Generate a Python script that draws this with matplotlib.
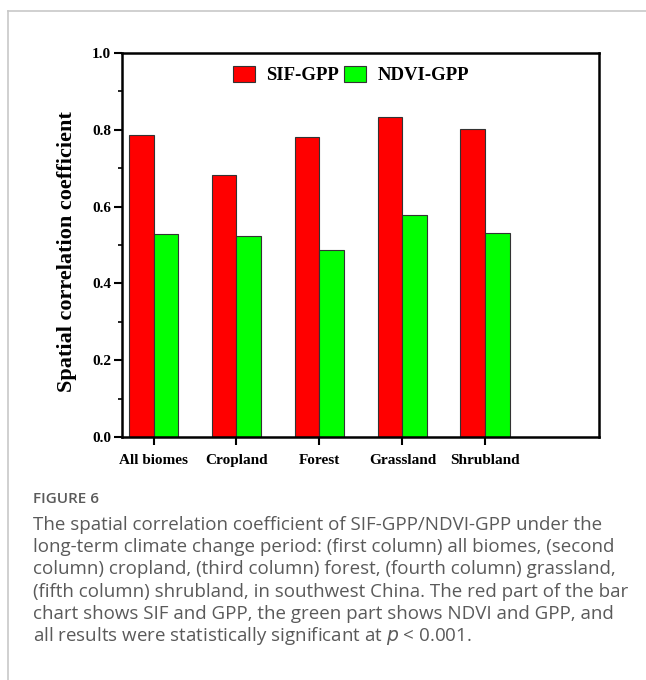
import matplotlib
matplotlib.use("Agg")
import matplotlib.pyplot as plt
from matplotlib.lines import Line2D
import numpy as np

biomes = ["All biomes", "Cropland", "Forest", "Grassland", "Shrubland"]
sif_gpp = [0.787, 0.681, 0.780, 0.833, 0.801]
ndvi_gpp = [0.529, 0.523, 0.486, 0.578, 0.530]
series_names = ["SIF-GPP", "NDVI-GPP"]

caption_title = "FIGURE 6"
caption_lines = [
    "The spatial correlation coefficient of SIF-GPP/NDVI-GPP under the",
    "long-term climate change period: (first column) all biomes, (second",
    "column) cropland, (third column) forest, (fourth column) grassland,",
    "(fifth column) shrubland, in southwest China. The red part of the bar",
    "chart shows SIF and GPP, the green part shows NDVI and GPP, and",
    "all results were statistically significant at $\\it{p}$ < 0.001.",
]

W, H = 646, 680
fig = plt.figure(figsize=(W / 100, H / 100), dpi=100)
fig.patch.set_facecolor("white")

# thin page frame (top and left edges)
fig.add_artist(Line2D([7.5 / W, 1.0], [1 - 10.5 / H, 1 - 10.5 / H],
                      transform=fig.transFigure, color="#c8c8c8", lw=1.2))
fig.add_artist(Line2D([7.5 / W, 7.5 / W], [0.0, 1 - 10.5 / H],
                      transform=fig.transFigure, color="#c8c8c8", lw=1.2))

ax = fig.add_axes([122 / W, 1 - 437 / H, (599 - 122) / W, (437 - 53) / H])

serif = ["Liberation Serif", "DejaVu Serif"]
x = np.arange(len(biomes))
bw = 0.3
ax.bar(x - bw / 2, sif_gpp, bw, color="#ff0000", edgecolor="#333333",
       linewidth=0.8, label=series_names[0], zorder=2)
ax.bar(x + bw / 2, ndvi_gpp, bw, color="#00ff00", edgecolor="#333333",
       linewidth=0.8, label=series_names[1], zorder=2)

ax.set_xlim(-0.38, 5.37)
ax.set_ylim(0, 1.0)
ax.set_yticks(np.arange(0, 1.01, 0.2))
ax.set_yticks(np.arange(0.1, 1.0, 0.2), minor=True)
ax.set_yticklabels([f"{v:.1f}" for v in np.arange(0, 1.01, 0.2)],
                   fontfamily=serif, fontweight="bold", fontsize=11)
ax.set_xticks(x)
ax.set_xticklabels(biomes, fontfamily=serif, fontweight="bold", fontsize=11)

ax.tick_params(axis="y", which="major", direction="out", length=6, width=1.5, pad=2)
ax.tick_params(axis="y", which="minor", direction="out", length=3, width=1.2)
ax.tick_params(axis="x", which="major", direction="out", length=6, width=1.5, pad=6)
for s in ax.spines.values():
    s.set_linewidth(1.8)

ax.set_ylabel("Spatial correlation coefficient", fontfamily=serif,
              fontweight="bold", fontsize=16)
ax.yaxis.set_label_coords(-0.094, 0.484)

ax.legend(loc="center", bbox_to_anchor=(0.48, 0.943), ncol=2, frameon=False,
          prop={"family": serif, "weight": "bold", "size": 13.5},
          handlelength=1.2, handleheight=0.95, handletextpad=0.6,
          columnspacing=0.25)

# caption under the chart
fig.text(33 / W, 1 - 503 / H, caption_title, fontfamily="Open Sans",
         fontweight="semibold", fontsize=11, color="#5a5a5a", va="baseline")
for i, line in enumerate(caption_lines):
    fig.text(33 / W, 1 - (530 + 22.2 * i) / H, line, fontfamily="Open Sans",
             fontsize=13.5, color="#5a5a5a", va="baseline")

fig.savefig("out.png", dpi=100)
